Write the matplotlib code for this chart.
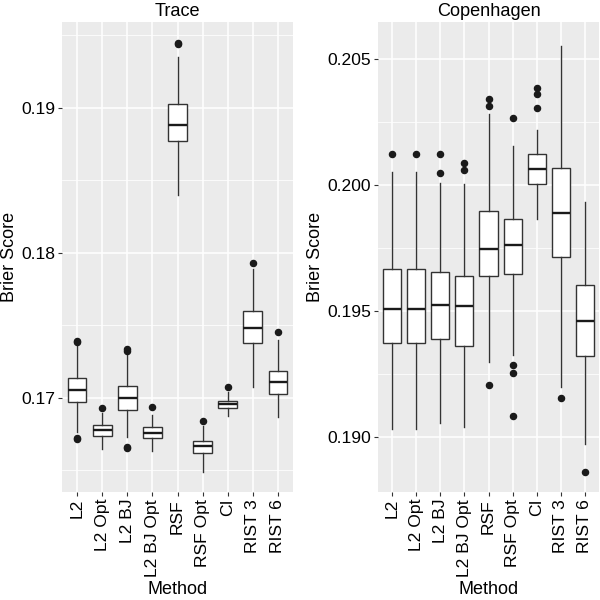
import matplotlib
matplotlib.use("Agg")
import matplotlib.pyplot as plt
from matplotlib.ticker import FixedLocator, NullFormatter

plt.rcParams["font.family"] = ["Liberation Sans", "DejaVu Sans"]

methods = ["L2", "L2 Opt", "L2 BJ", "L2 BJ Opt", "RSF", "RSF Opt", "CI", "RIST 3", "RIST 6"]

# Trace panel box statistics
trace_lo = [0.16766, 0.16646, 0.16731, 0.16632, 0.18398, 0.16490, 0.16874, 0.17072, 0.16869]
trace_q1 = [0.16972, 0.16738, 0.16917, 0.16720, 0.18768, 0.16617, 0.16927, 0.17375, 0.17023]
trace_med = [0.17055, 0.16777, 0.16998, 0.16759, 0.18883, 0.16665, 0.16957, 0.17479, 0.17110]
trace_q3 = [0.17138, 0.16810, 0.17083, 0.16798, 0.19023, 0.16701, 0.16979, 0.17596, 0.17184]
trace_hi = [0.17363, 0.16892, 0.17301, 0.16881, 0.19347, 0.16807, 0.17041, 0.17886, 0.17398]
trace_out = [
    [0.17389, 0.17382, 0.16713, 0.16720],
    [0.16931],
    [0.17338, 0.17325, 0.16655, 0.16662],
    [0.16936],
    [0.19437, 0.19447],
    [0.16841],
    [0.17076],
    [0.17931],
    [0.17455],
]

# Copenhagen panel box statistics
cph_lo = [0.19031, 0.19031, 0.19054, 0.19041, 0.19297, 0.19327, 0.19865, 0.19197, 0.18970]
cph_q1 = [0.19374, 0.19373, 0.19390, 0.19360, 0.19638, 0.19647, 0.20004, 0.19714, 0.19322]
cph_med = [0.19510, 0.19510, 0.19524, 0.19519, 0.19747, 0.19762, 0.20064, 0.19891, 0.19459]
cph_q3 = [0.19669, 0.19669, 0.19655, 0.19641, 0.19898, 0.19867, 0.20124, 0.20069, 0.19603]
cph_hi = [0.20054, 0.20054, 0.20010, 0.20005, 0.20282, 0.20157, 0.20220, 0.20555, 0.19932]
cph_out = [
    [0.20124],
    [0.20124],
    [0.20126, 0.20048],
    [0.20089, 0.20061],
    [0.20342, 0.20315, 0.19205],
    [0.20266, 0.19286, 0.19253, 0.19082],
    [0.20386, 0.20362, 0.20308],
    [0.19156],
    [0.18860],
]

trace_major = [0.17, 0.18, 0.19]
trace_labels = ["0.17", "0.18", "0.19"]
trace_minor = [0.165, 0.175, 0.185, 0.195]
cph_major = [0.190, 0.195, 0.200, 0.205]
cph_labels = ["0.190", "0.195", "0.200", "0.205"]
cph_minor = [0.1925, 0.1975, 0.2025]


def panel(ax, title, lo, q1, med, q3, hi, out, ylim, major, labels, minor):
    stats = []
    for i, m in enumerate(methods):
        stats.append(dict(label=m, whislo=lo[i], q1=q1[i], med=med[i],
                          q3=q3[i], whishi=hi[i], fliers=out[i]))
    ax.set_facecolor("#EBEBEB")
    ax.yaxis.set_major_locator(FixedLocator(major))
    ax.set_yticklabels(labels)
    ax.yaxis.set_minor_locator(FixedLocator(minor))
    ax.yaxis.set_minor_formatter(NullFormatter())
    ax.grid(True, which="major", color="white", linewidth=1.1)
    ax.grid(True, which="minor", axis="y", color="white", linewidth=0.55)
    ax.set_axisbelow(True)
    ax.bxp(stats, positions=range(1, len(methods) + 1), widths=0.75,
           showcaps=False, patch_artist=True,
           boxprops=dict(facecolor="white", edgecolor="#333333", linewidth=1.0),
           whiskerprops=dict(color="#333333", linewidth=1.0),
           medianprops=dict(color="#1a1a1a", linewidth=1.7),
           flierprops=dict(marker="o", markerfacecolor="#1a1a1a",
                           markeredgecolor="#1a1a1a", markersize=4.4))
    ax.set_xlim(0.4, len(methods) + 0.6)
    ax.set_ylim(*ylim)
    ax.set_xticks(range(1, len(methods) + 1))
    ax.set_xticklabels(methods, rotation=90, ha="center", va="top")
    ax.tick_params(axis="both", which="major", length=3, color="#333333",
                   labelsize=12.6, labelcolor="black", pad=2)
    ax.tick_params(axis="both", which="minor", length=0)
    for s in ax.spines.values():
        s.set_visible(False)
    ax.set_title(title, fontsize=13.1, pad=4)
    ax.set_xlabel("Method", fontsize=13)
    ax.xaxis.set_label_coords(0.5, -0.19)
    ax.set_ylabel("Brier Score", fontsize=13, labelpad=2)


fig = plt.figure(figsize=(6, 6), dpi=100)
ax1 = fig.add_axes([62 / 600, 108 / 600, 231 / 600, 470 / 600])
ax2 = fig.add_axes([378 / 600, 108 / 600, 221 / 600, 470 / 600])

panel(ax1, "Trace", trace_lo, trace_q1, trace_med, trace_q3, trace_hi, trace_out,
      (0.1635, 0.1959), trace_major, trace_labels, trace_minor)
panel(ax2, "Copenhagen", cph_lo, cph_q1, cph_med, cph_q3, cph_hi, cph_out,
      (0.18781, 0.20649), cph_major, cph_labels, cph_minor)

fig.savefig("out.png", dpi=100)
